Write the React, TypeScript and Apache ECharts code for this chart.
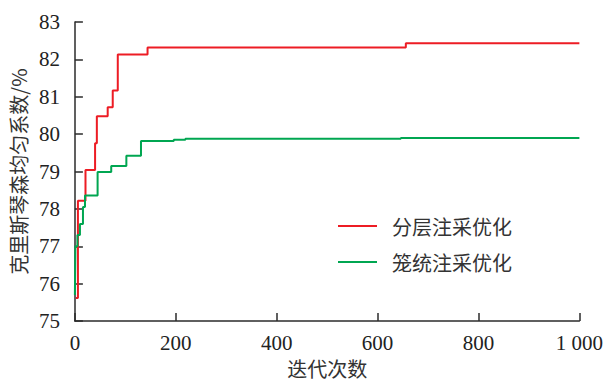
import React, { useEffect, useRef } from "react";
import * as echarts from "echarts";

const seriesNames = ["分层注采优化", "笼统注采优化"];
const layeredData: [number, number][] = [
  [2, 75.62], [6, 78.22], [21, 79.04], [40, 79.76], [43.5, 80.48],
  [65, 80.72], [75, 81.17], [85, 82.13], [144, 82.32], [656, 82.43], [1000, 82.43],
];
const generalData: [number, number][] = [
  [0, 75.7], [1, 77.0], [5, 77.3], [10, 77.6], [16, 78.05], [20, 78.36],
  [45, 78.99], [72, 79.15], [102, 79.42], [131, 79.82], [196, 79.85],
  [219, 79.88], [646, 79.9], [1000, 79.9],
];
const xAxisName = "迭代次数";
const yAxisName = "克里斯琴森均匀系数/%";

export default function App() {
  const ref = useRef<HTMLDivElement>(null);
  useEffect(() => {
    if (!ref.current) return;
    const chart = echarts.init(ref.current, null, { renderer: "svg" });
    const serif = "serif";
    const cjk = "Noto Sans CJK SC";
    const axisColor = "#2b2b2b";
    chart.setOption({
      animation: false,
      textStyle: { fontFamily: serif },
      grid: { left: 74, right: 26, top: 22, bottom: 57 },
      legend: {
        orient: "vertical",
        left: 338,
        top: 216,
        padding: 0,
        icon: "rect",
        itemWidth: 39,
        itemHeight: 2,
        itemGap: 16,
        textStyle: { fontFamily: cjk, fontSize: 20, color: "#333", padding: [0, 0, 0, 10], lineHeight: 20 },
        data: seriesNames,
      },
      xAxis: {
        type: "value",
        min: 0,
        max: 1000,
        interval: 200,
        name: xAxisName,
        nameLocation: "middle",
        nameGap: 35,
        nameTextStyle: { fontFamily: cjk, fontSize: 20, color: "#333" },
        axisLine: { lineStyle: { color: axisColor, width: 1.5 } },
        axisTick: { inside: true, length: 8, lineStyle: { color: axisColor, width: 1.5 } },
        axisLabel: {
          margin: 11,
          fontFamily: serif,
          fontSize: 21,
          color: "#222",
          formatter: (v: number) => (v >= 1000 ? String(v).replace(/(\d)(\d{3})$/, "$1 $2") : String(v)),
        },
        splitLine: { show: false },
      },
      yAxis: {
        type: "value",
        min: 75,
        max: 83,
        interval: 1,
        name: yAxisName,
        nameLocation: "middle",
        nameGap: 44,
        nameTextStyle: { fontFamily: cjk, fontSize: 20, color: "#333" },
        axisLine: { show: true, lineStyle: { color: axisColor, width: 1.5 } },
        axisTick: { show: true, inside: true, length: 8, lineStyle: { color: axisColor, width: 1.5 } },
        axisLabel: { margin: 15, fontFamily: serif, fontSize: 21, color: "#222" },
        splitLine: { show: false },
      },
      series: [
        {
          name: seriesNames[0],
          type: "line",
          step: "end",
          symbol: "none",
          data: layeredData,
          lineStyle: { color: "#ed1c24", width: 2 },
          itemStyle: { color: "#ed1c24" },
          z: 2,
        },
        {
          name: seriesNames[1],
          type: "line",
          step: "end",
          symbol: "none",
          data: generalData,
          lineStyle: { color: "#00a651", width: 2 },
          itemStyle: { color: "#00a651" },
          z: 3,
        },
      ],
    });
    return () => chart.dispose();
  }, []);
  return <div ref={ref} style={{ width: 606, height: 383, position: "absolute", left: 0, top: 0 }} />;
}
